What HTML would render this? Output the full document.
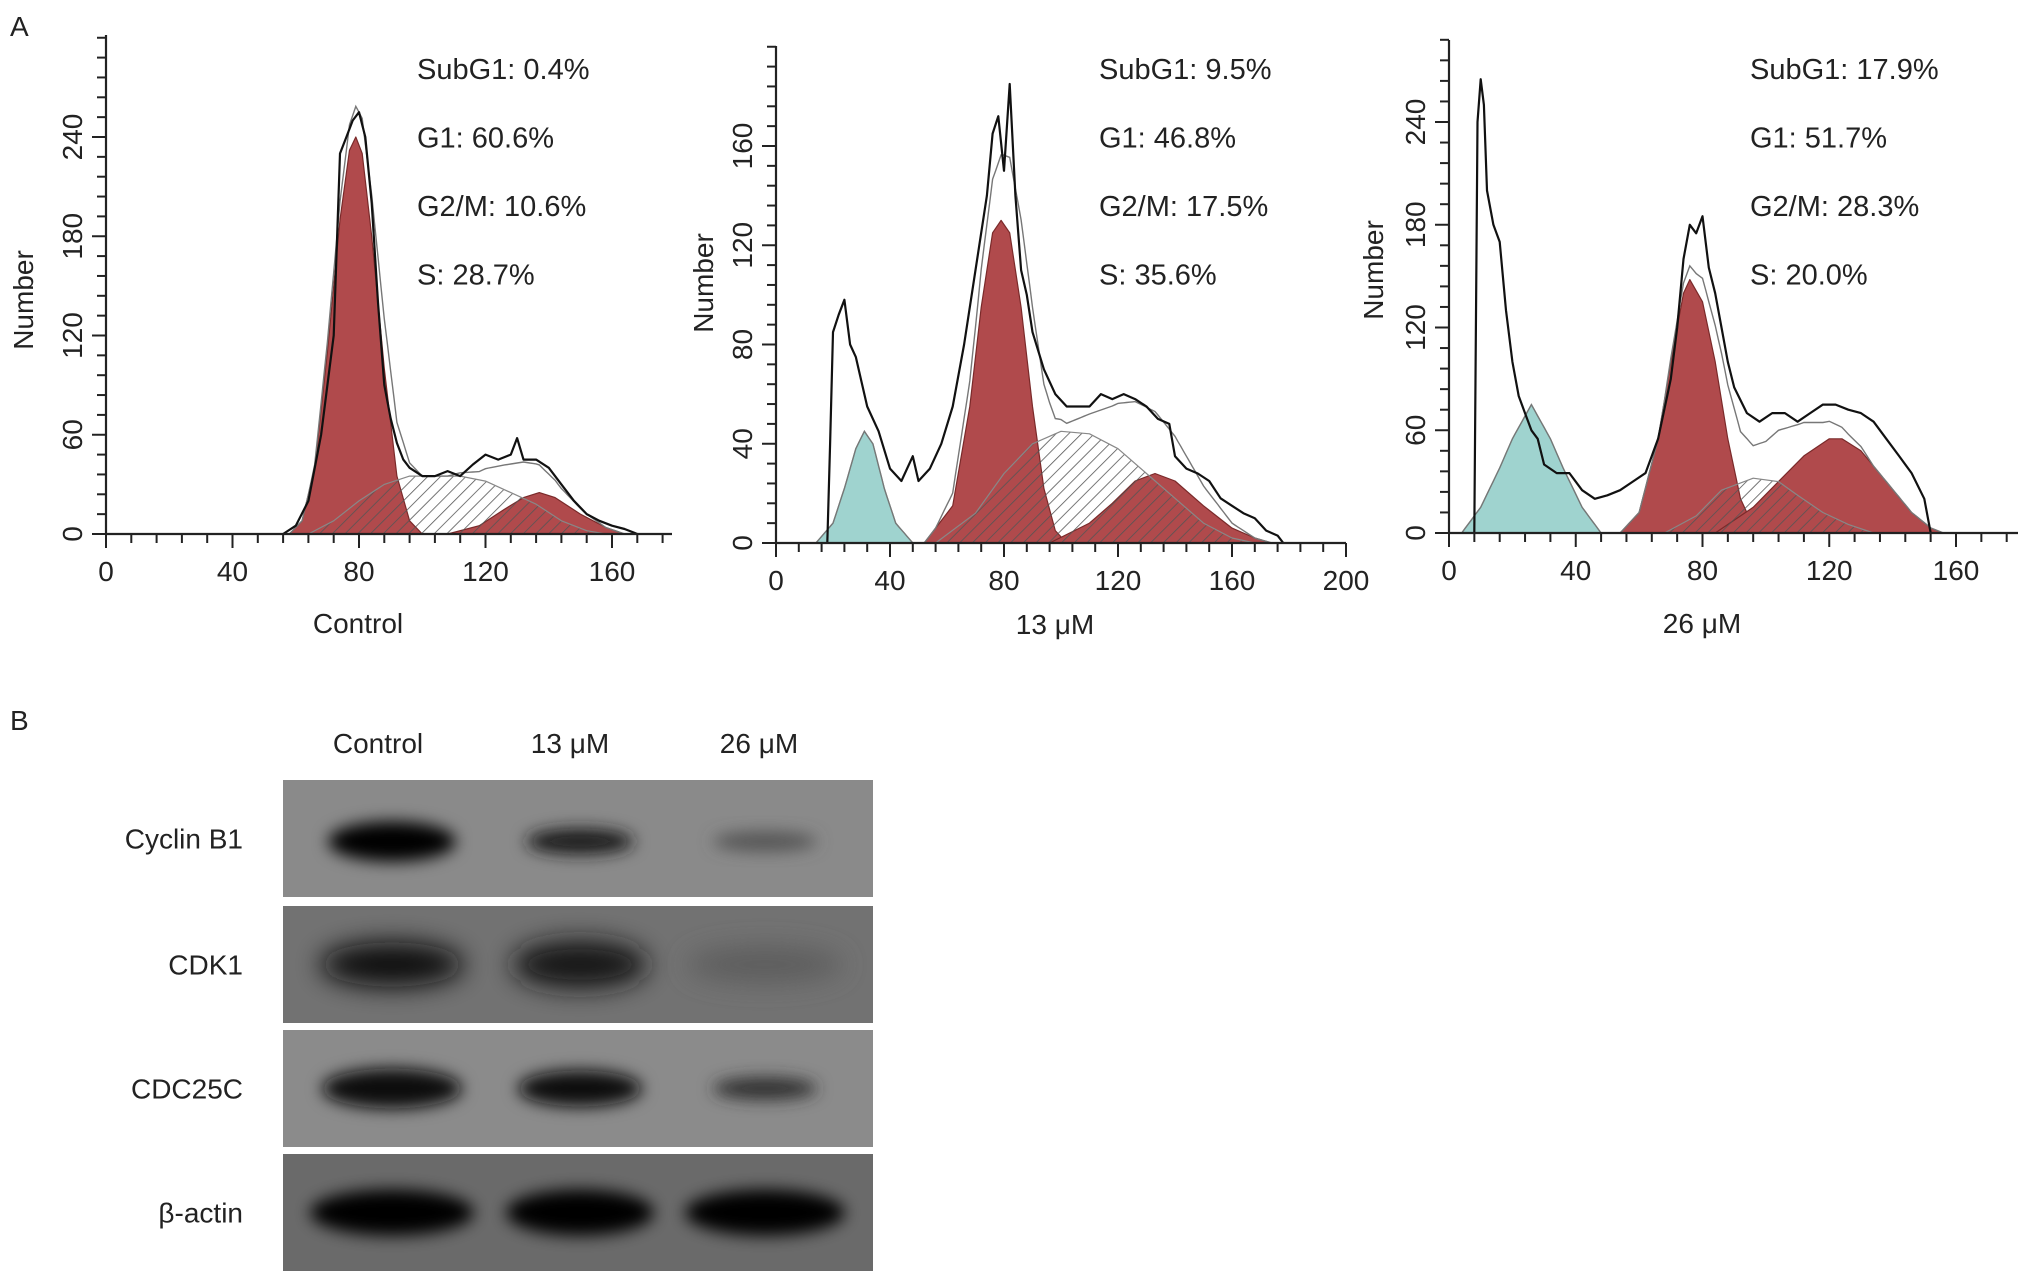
<!DOCTYPE html>
<html><head><meta charset="utf-8"><style>
html,body{margin:0;padding:0;background:#fff;}
body{width:2031px;height:1283px;overflow:hidden;font-family:"Liberation Sans",Arial,sans-serif;}
svg text{font-family:"Liberation Sans",Arial,sans-serif;}
</style></head><body>
<svg id="fig" width="2031" height="1283" viewBox="0 0 2031 1283" xmlns="http://www.w3.org/2000/svg">
<defs>
<pattern id="hatch" patternUnits="userSpaceOnUse" width="9" height="9" patternTransform="rotate(45)">
<line x1="0" y1="0" x2="0" y2="9" stroke="#555" stroke-width="1.6"/>
</pattern>
<filter id="blur" x="-50%" y="-80%" width="200%" height="260%"><feGaussianBlur stdDeviation="8"/></filter>
<filter id="blur2" x="-50%" y="-80%" width="200%" height="260%"><feGaussianBlur stdDeviation="13"/></filter>
</defs>
<text x="10" y="36" font-size="28" fill="#222">A</text>
<text x="10" y="730" font-size="28" fill="#222">B</text>
<g id="charts"></g>
<g id="blot"></g>
</svg>
<script>
// ---------- Panel 1: Control ----------
const p1RawX = [56,60,64,68,72,74,76,78,80,82,84,86,88,90,92,94,96,100,104,108,112,116,120,124,128,130,132,136,140,144,148,152,156,160,164,168];
const p1RawY = [0,5,20,60,120,230,240,250,255,240,200,140,90,70,55,45,40,35,35,38,35,42,48,45,48,58,45,45,40,30,20,12,8,5,3,0];
const p1G1X = [58,62,66,70,74,77,79,81,84,88,92,96,100];
const p1G1Y = [0,8,40,110,190,232,240,230,180,100,35,8,0];
const p1SX = [64,72,80,88,96,104,112,120,128,136,144,152,158];
const p1SY = [0,8,20,30,35,35,35,32,25,18,8,2,0];
const p1G2X = [108,118,126,132,137,142,150,158,164];
const p1G2Y = [0,5,15,22,25,22,12,4,0];
const p1SubX = [];
const p1SubY = [];
const p1Notes = ["SubG1: 0.4%","G1: 60.6%","G2/M: 10.6%","S: 28.7%"];
const p1XTicks = [0,40,80,120,160];
const p1YTicks = [0,60,120,180,240];

// ---------- Panel 2: 13 uM ----------
const p2RawX = [18,19,20,22,24,26,28,30,32,36,40,44,48,50,54,58,62,66,70,74,76,78,80,82,84,86,88,90,94,98,102,106,110,114,118,122,126,130,134,138,140,144,148,152,156,160,164,168,172,176,178];
const p2RawY = [0,40,85,92,98,80,75,65,55,45,30,25,35,25,30,40,55,80,110,140,165,172,150,185,140,110,100,85,70,60,55,55,55,60,58,60,58,55,50,48,35,30,28,25,18,15,12,10,5,3,0];
const p2SubX = [14,20,24,28,31,34,38,42,48];
const p2SubY = [0,8,22,38,45,40,22,8,0];
const p2G1X = [52,62,68,72,76,79,82,86,90,94,98,102];
const p2G1Y = [0,15,55,95,125,130,125,95,55,22,5,0];
const p2SX = [56,70,80,90,100,110,120,130,140,150,160,168];
const p2SY = [0,12,28,40,45,44,38,28,18,8,2,0];
const p2G2X = [96,110,118,126,133,140,150,160,168,174];
const p2G2Y = [0,8,16,25,28,25,15,6,2,0];
const p2Notes = ["SubG1: 9.5%","G1: 46.8%","G2/M: 17.5%","S: 35.6%"];
const p2XTicks = [0,40,80,120,160,200];
const p2YTicks = [0,40,80,120,160];

// ---------- Panel 3: 26 uM ----------
const p3RawX = [8,9,10,11,12,14,16,18,20,22,24,26,28,30,34,38,42,46,50,54,58,62,66,70,72,74,76,78,80,82,84,86,88,90,94,98,102,106,110,114,118,122,126,130,134,138,142,146,150,151,152];
const p3RawY = [0,240,265,250,200,180,170,130,100,80,70,60,55,40,35,35,25,20,22,25,30,35,55,90,120,160,180,175,185,155,140,120,100,85,70,65,70,70,65,70,75,75,72,70,65,55,45,35,20,10,0];
const p3SubX = [4,10,16,20,26,32,36,42,48];
const p3SubY = [0,15,38,55,75,55,38,15,0];
const p3G1X = [54,60,66,70,74,76,80,84,88,92,96,100];
const p3G1Y = [0,12,55,100,140,148,135,100,55,20,4,0];
const p3SX = [68,78,86,96,104,110,118,126,134];
const p3SY = [0,10,25,32,30,22,12,5,0];
const p3G2X = [84,96,104,112,120,124,130,138,146,152,156];
const p3G2Y = [0,15,30,45,55,55,48,30,12,3,0];
const p3Notes = ["SubG1: 17.9%","G1: 51.7%","G2/M: 28.3%","S: 20.0%"];
const p3XTicks = [0,40,80,120,160];
const p3YTicks = [0,60,120,180,240];

// ---------- Western blot ----------
const laneLabels = ["Control","13 \u03bcM","26 \u03bcM"];
const rowLabels = ["Cyclin B1","CDK1","CDC25C","\u03b2-actin"];
const bandCyclin = [1.0,0.85,0.5];
const bandCDK1 = [0.95,0.88,0.45];
const bandCDC25C = [0.97,0.95,0.75];
const bandActin = [1.0,1.0,1.0];

const NS="http://www.w3.org/2000/svg";
function mk(tag,attrs,parent){const e=document.createElementNS(NS,tag);for(const k in attrs)e.setAttribute(k,attrs[k]);parent.appendChild(e);return e;}
function interp(xs,ys,x){if(!xs.length||x<=xs[0]||x>=xs[xs.length-1])return 0;for(let i=1;i<xs.length;i++){if(x<=xs[i]){const t=(x-xs[i-1])/(xs[i]-xs[i-1]);return ys[i-1]+t*(ys[i]-ys[i-1]);}}return 0;}

function drawPanel(cfg){
  const root=document.getElementById('charts');
  const g=mk('g',{},root);
  
  
  const sx=v=>cfg.x0+(v)*(cfg.xPx);
  const sy=v=>cfg.y0-(v)*(cfg.yPx);
  function area(xs,ys,fill,nm,stroke){
    if(!xs.length)return;
    let d='M'+sx(xs[0])+','+sy(0);
    for(let i=0;i<xs.length;i++)d+=' L'+sx(xs[i]).toFixed(1)+','+sy(ys[i]).toFixed(1);
    d+=' L'+sx(xs[xs.length-1])+','+sy(0)+' Z';
    const p=mk('path',{d:d,fill:fill,stroke:stroke||'#666','stroke-width':1.2,'stroke-linejoin':'round'},g);
    
    
  }
  area(cfg.subX,cfg.subY,'#9fd3cf','subg1-peak','#6a9');
  area(cfg.g1X,cfg.g1Y,'#b04a4c','g1-peak','#7a2a2a');
  area(cfg.g2X,cfg.g2Y,'#b04a4c','g2m-peak','#7a2a2a');
  area(cfg.sX,cfg.sY,'url(#hatch)','s-phase-region','#888');
  let d='';
  for(let x=cfg.xmin;x<=cfg.xmax;x+=1){
    const v=interp(cfg.subX,cfg.subY,x)+interp(cfg.g1X,cfg.g1Y,x)+interp(cfg.sX,cfg.sY,x)+interp(cfg.g2X,cfg.g2Y,x);
    d+=(d?' L':'M')+sx(x).toFixed(1)+','+sy(v).toFixed(1);
  }
  const env=mk('path',{d:d,fill:'none',stroke:'#777','stroke-width':1.4},g);
  
  
  let r='';
  for(let i=0;i<cfg.rawX.length;i++)r+=(i?' L':'M')+sx(cfg.rawX[i]).toFixed(1)+','+sy(cfg.rawY[i]).toFixed(1);
  const raw=mk('path',{d:r,fill:'none',stroke:'#111','stroke-width':2.2,'stroke-linejoin':'round'},g);
  
  
  const ax=mk('line',{x1:cfg.x0,y1:cfg.y0,x2:cfg.axEnd,y2:cfg.y0,stroke:'#222','stroke-width':2.2},g);
  
  
  const ay=mk('line',{x1:cfg.x0,y1:cfg.y0,x2:cfg.x0,y2:cfg.axTop,stroke:'#222','stroke-width':2.2},g);
  
  
  for(let v=0;sx(v)<=cfg.axEnd+1;v+=cfg.xMinor){
    const major=cfg.xTicks.indexOf(v)>=0;
    mk('line',{x1:sx(v),y1:cfg.y0,x2:sx(v),y2:cfg.y0+(major?14:9),stroke:'#222','stroke-width':2},g);
  }
  for(let v=0;sy(v)>=cfg.axTop-1;v+=cfg.yMinor){
    const major=cfg.yTicks.indexOf(v)>=0;
    mk('line',{x1:cfg.x0,y1:sy(v),x2:cfg.x0-(major?14:9),y2:sy(v),stroke:'#222','stroke-width':2},g);
  }
  cfg.xTicks.forEach(v=>{
    const t=mk('text',{x:sx(v),y:cfg.y0+47,'font-size':28,'text-anchor':'middle',fill:'#222'},g);
    t.textContent=v;
    
    
  });
  cfg.yTicks.forEach(v=>{
    const t=mk('text',{x:0,y:0,'font-size':28,'text-anchor':'middle',fill:'#222',transform:'translate('+(cfg.x0-24)+','+sy(v)+') rotate(-90)'},g);
    t.textContent=v;
    
    
  });
  const yt=mk('text',{x:0,y:0,'font-size':28,'text-anchor':'middle',fill:'#222',transform:'translate('+cfg.ytX+','+cfg.ytY+') rotate(-90)'},g);
  yt.textContent='Number';
  
  
  const xt=mk('text',{x:cfg.xtX,y:cfg.xtY,'font-size':28,'text-anchor':'middle',fill:'#222'},g);
  xt.textContent=cfg.title;
  
  
  cfg.notes.forEach((s,i)=>{
    const t=mk('text',{x:cfg.noteX,y:79+i*68.5,'font-size':29,fill:'#222'},g);
    t.textContent=s;
    
    
  });
}

drawPanel({name:'histogram-control',x0:106,y0:534,xPx:506/160,yPx:397/240,axEnd:672,axTop:35,xmin:50,xmax:172,
  rawX:p1RawX,rawY:p1RawY,subX:p1SubX,subY:p1SubY,g1X:p1G1X,g1Y:p1G1Y,sX:p1SX,sY:p1SY,g2X:p1G2X,g2Y:p1G2Y,
  xTicks:p1XTicks,yTicks:p1YTicks,xMinor:8,yMinor:12,ytX:33,ytY:300,xtX:358,xtY:633,title:'Control',notes:p1Notes,noteX:417});
drawPanel({name:'histogram-13um',x0:776,y0:543,xPx:570/200,yPx:397/160,axEnd:1346,axTop:46,xmin:10,xmax:185,
  rawX:p2RawX,rawY:p2RawY,subX:p2SubX,subY:p2SubY,g1X:p2G1X,g1Y:p2G1Y,sX:p2SX,sY:p2SY,g2X:p2G2X,g2Y:p2G2Y,
  xTicks:p2XTicks,yTicks:p2YTicks,xMinor:8,yMinor:8,ytX:713,ytY:283,xtX:1055,xtY:634,title:'13 \u03bcM',notes:p2Notes,noteX:1099});
drawPanel({name:'histogram-26um',x0:1449,y0:533,xPx:507/160,yPx:411/240,axEnd:2018,axTop:40,xmin:2,xmax:165,
  rawX:p3RawX,rawY:p3RawY,subX:p3SubX,subY:p3SubY,g1X:p3G1X,g1Y:p3G1Y,sX:p3SX,sY:p3SY,g2X:p3G2X,g2Y:p3G2Y,
  xTicks:p3XTicks,yTicks:p3YTicks,xMinor:8,yMinor:12,ytX:1383,ytY:270,xtX:1702,xtY:633,title:'26 \u03bcM',notes:p3Notes,noteX:1750});

(function(){
  const b=document.getElementById('blot');
  const laneX=[392,580,765];
  const strips=[{y:780,h:117,bg:'#8a8a8a',v:bandCyclin,rx:[64,54,52],ry:[20,13,10]},
                {y:906,h:117,bg:'#727272',v:bandCDK1,rx:[72,68,78],ry:[22,24,18]},
                {y:1030,h:117,bg:'#8b8b8b',v:bandCDC25C,rx:[70,62,52],ry:[20,18,11]},
                {y:1154,h:117,bg:'#6a6a6a',v:bandActin,rx:[82,74,80],ry:[23,23,23]}];
  laneLabels.forEach((s,i)=>{
    const t=mk('text',{x:laneX[i]-14+i*4,y:753,'font-size':28,'text-anchor':'middle',fill:'#222'},b);
    t.textContent=s;
    
    
  });
  strips.forEach((s,r)=>{
    const rect=mk('rect',{x:283,y:s.y,width:590,height:s.h,fill:s.bg},b);
    
    
    const lab=mk('text',{x:243,y:s.y+s.h/2+10,'font-size':28,'text-anchor':'end',fill:'#222'},b);
    lab.textContent=rowLabels[r];
    
    
    s.v.forEach((v,i)=>{
      const c=Math.round(5+(1-v)*160);
      const e=mk('ellipse',{cx:laneX[i],cy:s.y+s.h/2+(r==0?3:0),rx:s.rx[i],ry:s.ry[i],fill:'rgb('+c+','+c+','+c+')',filter:r==1?'url(#blur2)':'url(#blur)'},b);
      
      
    });
  });
})();
</script>
</body></html>
